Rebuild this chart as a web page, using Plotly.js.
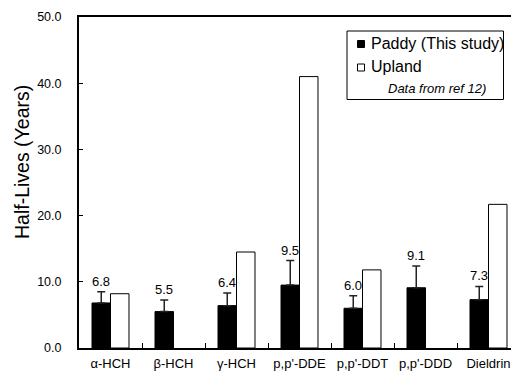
<!DOCTYPE html>
<html>
<head>
<meta charset="utf-8">
<script src="https://cdn.plot.ly/plotly-3.0.1.min.js"></script>
<style>html,body{margin:0;padding:0;overflow:hidden;background:#fff}</style>
</head>
<body>
<div id="chart" style="width:511px;height:376px"></div>
<script>
const categories = ["α-HCH", "β-HCH", "γ-HCH", "p,p'-DDE", "p,p'-DDT", "p,p'-DDD", "Dieldrin"];
const paddy = [6.8, 5.5, 6.4, 9.5, 6.0, 9.1, 7.3];
const paddyErr = [1.7, 1.75, 1.9, 3.7, 1.9, 3.3, 2.0];
const upland = [8.2, null, 14.5, 41.0, 11.8, null, 21.7];
const paddyLabels = ["6.8", "5.5", "6.4", "9.5", "6.0", "9.1", "7.3"];
const yTicks = [0, 10, 20, 30, 40, 50];
const yTickText = ["0.0", "10.0", "20.0", "30.0", "40.0", "50.0"];

const FONT = "Arial, 'Liberation Sans', sans-serif";
const W = 511, H = 376;
const M = {l: 79, r: 0, t: 17, b: 28};
const plotW = W - M.l - M.r, plotH = H - M.t - M.b;
const catPx = 63;
const bargap = 0.413;
const px = x => (x - M.l) / plotW;
const py = y => (H - M.b - y) / plotH;

const barW = (1 - bargap) / 2;

const traces = [
  {
    type: 'bar', name: 'Paddy (This study)', x: categories, y: paddy,
    marker: {color: '#000', line: {color: '#000', width: 1}},
    error_y: {type: 'data', symmetric: false, array: paddyErr, arrayminus: paddyErr.map(() => 0),
              color: '#222', thickness: 1.5, width: 4},
    showlegend: false, hoverinfo: 'y'
  },
  {
    type: 'bar', name: 'Upland', x: categories, y: upland,
    marker: {color: '#fff', line: {color: '#000', width: 1}},
    showlegend: false, hoverinfo: 'y'
  }
];

const annotations = paddy.map((v, i) => ({
  x: i - barW / 2, y: v + paddyErr[i], xref: 'x', yref: 'y',
  text: paddyLabels[i], showarrow: false, yanchor: 'bottom', xanchor: 'center',
  yshift: 1, font: {family: FONT, size: 13, color: '#000'}
}));

annotations.push(
  {x: px(22), y: py(162), xref: 'paper', yref: 'paper', text: 'Half-Lives (Years)', textangle: -90,
   showarrow: false, xanchor: 'center', yanchor: 'middle', font: {family: FONT, size: 19.5, color: '#000'}},
  {x: px(369), y: py(43.5), xref: 'paper', yref: 'paper', text: 'Paddy (This study)',
   showarrow: false, xanchor: 'left', yanchor: 'middle', font: {family: FONT, size: 16, color: '#000'}},
  {x: px(369), y: py(67), xref: 'paper', yref: 'paper', text: 'Upland',
   showarrow: false, xanchor: 'left', yanchor: 'middle', font: {family: FONT, size: 16, color: '#000'}},
  {x: px(386), y: py(89), xref: 'paper', yref: 'paper', text: '<i>Data from ref 12)</i>',
   showarrow: false, xanchor: 'left', yanchor: 'middle', font: {family: FONT, size: 13, color: '#000'}}
);

const shapes = [
  {type: 'rect', xref: 'paper', yref: 'paper', x0: px(347), x1: px(503.5), y0: py(31), y1: py(99.5),
   line: {color: '#000', width: 1}, fillcolor: '#fff', layer: 'above'},
  {type: 'rect', xref: 'paper', yref: 'paper', x0: px(357.5), x1: px(364.5), y0: py(40.5), y1: py(47.5),
   line: {color: '#000', width: 1}, fillcolor: '#000', layer: 'above'},
  {type: 'rect', xref: 'paper', yref: 'paper', x0: px(357.5), x1: px(364.5), y0: py(64), y1: py(71),
   line: {color: '#000', width: 1}, fillcolor: '#fff', layer: 'above'}
];

const layout = {
  width: W, height: H, margin: M,
  paper_bgcolor: '#fff', plot_bgcolor: '#fff',
  barmode: 'group', bargap: bargap, bargroupgap: 0,
  showlegend: false,
  font: {family: FONT, color: '#000'},
  xaxis: {
    type: 'category', range: [-0.5, -0.5 + plotW / catPx],
    showline: true, linecolor: '#000', linewidth: 2, mirror: true,
    ticks: 'inside', tickson: 'boundaries', ticklen: 5, tickcolor: '#000', tickwidth: 1,
    tickfont: {family: FONT, size: 13, color: '#000'}, ticklabelstandoff: 2,
    showgrid: false, zeroline: false, fixedrange: true
  },
  yaxis: {
    range: [0, 50], tickvals: yTicks, ticktext: yTickText,
    showline: true, linecolor: '#000', linewidth: 2, mirror: false,
    ticks: 'inside', ticklen: 4, tickcolor: '#000', tickwidth: 1,
    tickfont: {family: FONT, size: 12.5, color: '#000'}, ticklabelstandoff: 13,
    showgrid: false, zeroline: false, fixedrange: true
  },
  annotations: annotations,
  shapes: shapes
};

Plotly.newPlot('chart', traces, layout, {displayModeBar: false, staticPlot: true});
</script>
</body>
</html>
